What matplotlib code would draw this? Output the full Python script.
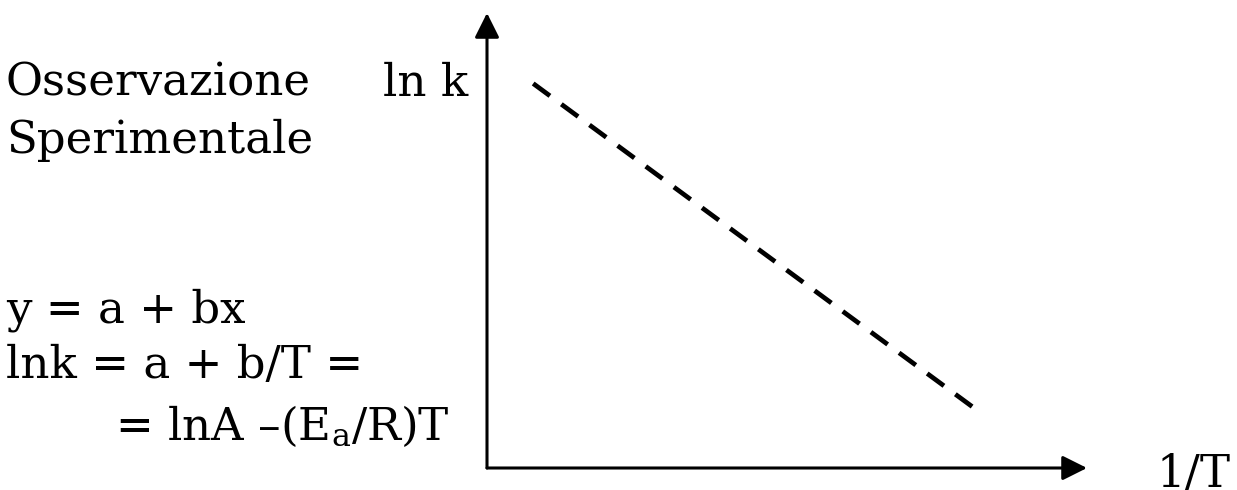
import numpy as np
import matplotlib
matplotlib.use("Agg")
import matplotlib.pyplot as plt

plt.rcParams['font.family'] = ['DejaVu Serif']
plt.rcParams['mathtext.fontset'] = 'dejavuserif'

W, H = 1237, 490

# andamento osservato di ln k in funzione di 1/T (unita' arbitrarie)
inv_T = [0.077, 0.824]
ln_k = [0.845, 0.12]

# testi a sinistra del grafico
left_lines = ["Osservazione", "Sperimentale"]
eq_lines = ["y = a + bx", "lnk = a + b/T =", "= lnA \u2013(E$_\\mathrm{a}$/R)T"]
ylabel = "ln k"
xlabel = "1/T"

fig = plt.figure(figsize=(W / 100, H / 100), dpi=100)
fig.patch.set_facecolor("white")

# riquadro del grafico: origine degli assi in (487, 468) px
x0, y0 = 487, 468
x1, y1 = 1087, 13
ax = fig.add_axes([x0 / W, 1 - y0 / H, (x1 - x0) / W, (y0 - y1) / H])
ax.set_xlim(0, 1)
ax.set_ylim(0, 1)
ax.axis("off")

arrow = dict(arrowstyle="-|>,head_length=1.5,head_width=0.75", lw=2.2, color="black",
             shrinkA=0, shrinkB=0)
ax.annotate("", xy=(0, 1), xytext=(0, 0), xycoords="axes fraction", arrowprops=arrow)
ax.annotate("", xy=(1, 0), xytext=(0, 0), xycoords="axes fraction", arrowprops=arrow)

ax.plot(inv_T, ln_k, color="black", lw=3.4, linestyle=(0, (4.4, 3.0)),
        solid_capstyle="butt", dash_capstyle="butt")

fs = 32.5


def px_text(x, y, s, **kw):
    fig.text(x / W, 1 - y / H, s, fontsize=fs, va="baseline", **kw)


px_text(6, 96, left_lines[0])
px_text(6, 153, left_lines[1])
px_text(468, 96, ylabel, ha="right")
px_text(6, 322, eq_lines[0])
px_text(6, 378, eq_lines[1])
px_text(115, 440, eq_lines[2])
px_text(1231, 487, xlabel, ha="right")

fig.savefig("out.png", dpi=100, facecolor="white")
